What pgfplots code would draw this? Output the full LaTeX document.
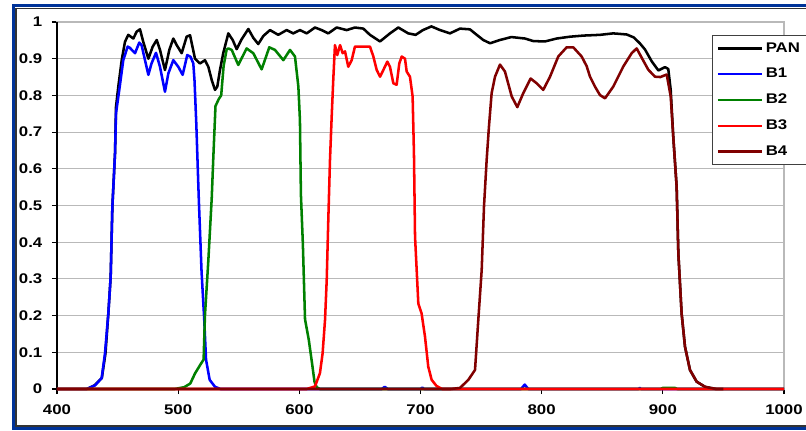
\documentclass[border=0pt]{standalone}
\usepackage{fontspec}
\setmainfont{Liberation Sans}[FakeStretch=1.2]
\usepackage{pgfplots}
\pgfplotsset{compat=1.18}
\definecolor{frameblue}{RGB}{0,51,153}
\definecolor{bfour}{RGB}{128,0,0}
\definecolor{btwo}{RGB}{0,128,0}
\definecolor{gridgray}{RGB}{185,185,185}
\begin{document}
\begin{tikzpicture}
\begin{axis}[
  at={(0,0)}, anchor=south west,
  scale only axis, width=545.25pt, height=275.25pt,
  xmin=400, xmax=1000, ymin=0, ymax=1,
  clip=false,
  xtick={400,500,600,700,800,900,1000},
  xticklabels={400,500,600,700,800,900,1000},
  ytick={0,0.1,0.2,0.3,0.4,0.5,0.6,0.7,0.8,0.9,1},
  yticklabels={0,0.1,0.2,0.3,0.4,0.5,0.6,0.7,0.8,0.9,1},
  xtick pos=bottom, ytick pos=left,
  tick align=outside, major tick length=3.75pt,
  major tick style={black, line width=0.8pt},
  tick label style={font=\bfseries\fontsize{10.5}{12}\selectfont},
  xticklabel style={yshift=-4.5pt},
  yticklabel style={xshift=-3.75pt},
  ymajorgrids, major grid style={gridgray, line width=0.8pt},
  axis line style={gridgray, line width=0.8pt},
  legend cell align=left,
  legend style={at={(0.901,0.9646)}, anchor=north west, draw=black!75, line width=0.8pt,
    fill=white, font=\bfseries\fontsize{10.5}{12}\selectfont, inner xsep=3pt, inner ysep=3.3pt,
    row sep=6.6pt},
  legend image code/.code={\draw[#1] (0pt,0pt) -- (33pt,0pt);},
  every axis plot/.append style={line width=1.9pt, line join=round},
]
\draw[black, line width=1pt] (rel axis cs:0,1) -- (rel axis cs:0,0) -- (rel axis cs:1,0);
\addplot[black] coordinates {
(425,0) (431,0.01) (437,0.03) (440,0.097) (442.4,0.207) (444.3,0.306) (445.7,0.497) (447.9,0.643) (448.7,0.769) (450.6,0.824) (453.4,0.896) (456.1,0.946) (458.8,0.965) (463,0.955) (465.8,0.974) (468.5,0.98) (471.2,0.946) (475.4,0.9) (479,0.933) (482.3,0.951) (485,0.924) (489.1,0.869) (492.7,0.924) (496,0.955) (498.8,0.937) (502.9,0.915) (507,0.96) (509.8,0.964) (513.9,0.9) (518,0.887) (522.1,0.896) (524.9,0.878) (527.7,0.842) (530.4,0.815) (532.3,0.824) (534.5,0.869) (537.2,0.915) (538.6,0.933) (541.4,0.969) (545,0.951) (548.3,0.926) (552.4,0.953) (557.9,0.981) (562,0.957) (566.1,0.94) (570.3,0.962) (575.8,0.978) (582.6,0.965) (589.5,0.978) (595,0.969) (600.5,0.978) (606.1,0.969) (612.9,0.985) (618.4,0.978) (623.9,0.969) (630.8,0.985) (639.1,0.978) (645.9,0.985) (652.8,0.982) (658.3,0.965) (666.6,0.947) (674.8,0.969) (681.7,0.985) (689.9,0.969) (696,0.965) (702,0.978) (709,0.988) (716.1,0.978) (724.3,0.969) (732.6,0.982) (740.8,0.98) (746.4,0.965) (751.8,0.951) (757.4,0.942) (765.6,0.951) (775,0.959) (786.2,0.955) (793.1,0.948) (802.7,0.947) (812.4,0.955) (823.4,0.96) (834.4,0.963) (848.1,0.965) (859.1,0.969) (870.2,0.966) (876,0.958) (881,0.942) (885.3,0.925) (890.8,0.893) (896.3,0.868) (901.8,0.877) (904.5,0.872) (906.5,0.815) (908.6,0.688) (911.4,0.551) (912.8,0.37) (915.5,0.206) (918.3,0.115) (922.4,0.052) (927.9,0.02) (934.8,0.006) (944,0)
};
\addlegendentry{PAN}
\addplot[blue] coordinates {
(400,0) (424.5,0) (431.4,0.01) (436.9,0.03) (439.6,0.097) (442.4,0.207) (444.3,0.306) (445.7,0.497) (447.9,0.643) (448.7,0.751) (451.4,0.815) (454.7,0.896) (458.3,0.933) (460,0.93) (464.4,0.915) (467.9,0.944) (469.8,0.937) (475.4,0.856) (478,0.887) (481.7,0.916) (485,0.878) (489.1,0.81) (491.9,0.86) (496,0.896) (500.1,0.878) (503.7,0.856) (507.5,0.91) (510.3,0.905) (512.5,0.887) (513.5,0.84) (515,0.72) (517,0.52) (519.3,0.32) (521.5,0.19) (523,0.08) (526,0.025) (530.4,0.006) (535,0) (668,0) (670.5,0.006) (673,0) (700,0) (701.5,0.004) (703,0) (783,0) (786,0.012) (789,0) (880,0) (881,0.003) (882,0) (1000,0)
};
\addlegendentry{B1}
\addplot[btwo] coordinates {
(400,0) (497,0) (505,0.005) (510,0.015) (514,0.043) (519,0.07) (521,0.08) (522.1,0.2) (524.9,0.35) (527.7,0.52) (529,0.63) (530.8,0.771) (533.5,0.79) (535.5,0.8) (537.5,0.88) (540,0.925) (541.4,0.928) (544.2,0.924) (549.6,0.883) (556.5,0.928) (562,0.915) (568.9,0.871) (575.2,0.931) (579.9,0.924) (586.8,0.896) (592.3,0.924) (596.4,0.906) (599.2,0.824) (600.5,0.733) (601.3,0.53) (602.9,0.397) (604.7,0.19) (607.8,0.134) (610.5,0.07) (612.5,0.02) (614.3,0.005) (617,0) (898,0) (900,0.003) (910,0.003) (912,0) (1000,0)
};
\addlegendentry{B2}
\addplot[red] coordinates {
(400,0) (606,0) (612.9,0.007) (617,0.043) (619.2,0.097) (621.2,0.188) (622.6,0.297) (623.9,0.46) (625.3,0.624) (626.7,0.742) (628,0.842) (629.4,0.937) (631.3,0.91) (633.6,0.937) (635.8,0.915) (637.7,0.92) (640.4,0.878) (643.2,0.896) (645.9,0.933) (652.8,0.933) (658.3,0.933) (661.1,0.906) (663.9,0.869) (666.6,0.851) (669.3,0.869) (672.6,0.892) (674.8,0.878) (677.6,0.833) (680.3,0.829) (682.5,0.887) (684.5,0.906) (687.2,0.9) (688.6,0.865) (691.3,0.851) (693.5,0.797) (694.6,0.642) (695.5,0.415) (698.2,0.233) (700.9,0.206) (703.7,0.143) (706.4,0.061) (709.2,0.025) (713.3,0.008) (718,0) (1000,0)
};
\addlegendentry{B3}
\addplot[bfour] coordinates {
(400,0) (725,0) (732.6,0.003) (739.5,0.025) (745,0.052) (747.7,0.188) (750.5,0.324) (752.4,0.497) (754.6,0.624) (756.5,0.715) (758.7,0.806) (761.5,0.851) (765.6,0.884) (769.7,0.865) (775.3,0.797) (779.9,0.768) (784.8,0.806) (790.9,0.846) (795.9,0.833) (801.3,0.815) (806.9,0.851) (813.7,0.906) (820.6,0.931) (826.1,0.931) (833,0.906) (837.1,0.88) (839.9,0.851) (844,0.824) (848.1,0.801) (852.3,0.792) (859.1,0.824) (867.4,0.879) (874.3,0.915) (878.4,0.928) (883,0.9) (888,0.87) (893.5,0.851) (898,0.85) (903.2,0.857) (906.5,0.797) (908.6,0.688) (911.4,0.551) (912.8,0.37) (915.5,0.206) (918.3,0.115) (922.4,0.052) (927.9,0.02) (934.8,0.006) (944,0) (950,0)
};
\addlegendentry{B4}
\end{axis}
\begin{scope}[x=0.75pt,y=0.75pt,shift={(-57,-41)}]
\draw[frameblue, line width=2.5pt] (13.3,1.7) rectangle (830,424.3);
\draw[black!80, line width=1.2pt] (15.8,4.2) rectangle (826,421.7);
\pgfresetboundingbox
\path[use as bounding box] (0,0) rectangle (806,430);
\end{scope}
\end{tikzpicture}
\end{document}
